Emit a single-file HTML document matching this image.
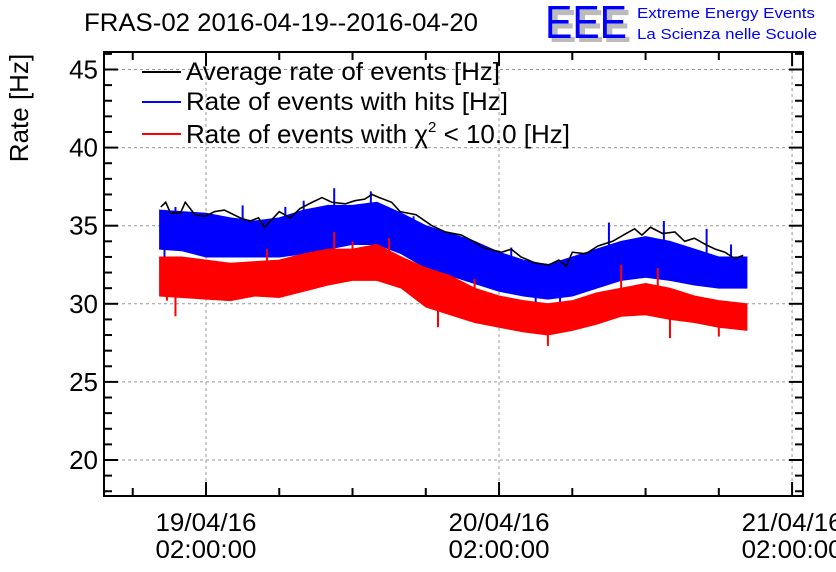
<!DOCTYPE html>
<html><head><meta charset="utf-8"><style>
body{margin:0;background:#fff;}
svg{display:block;font-family:"Liberation Sans",sans-serif;}
</style></head><body>
<svg id="chart" width="836" height="572" viewBox="0 0 836 572">
<text x="84" y="31" font-size="25" textLength="394" lengthAdjust="spacingAndGlyphs">FRAS-02 2016-04-19--2016-04-20</text>
<g>
<text x="549" y="42" font-size="46" fill="#bbb" font-weight="bold" textLength="82" lengthAdjust="spacingAndGlyphs">EEE</text>
<text x="545" y="38" font-size="46" fill="#0000ff" textLength="82" lengthAdjust="spacingAndGlyphs">EEE</text>
<text x="637" y="18" font-size="15" fill="#0000ff" textLength="178" lengthAdjust="spacingAndGlyphs">Extreme Energy Events</text>
<text x="637" y="39" font-size="15" fill="#0000ff" textLength="180" lengthAdjust="spacingAndGlyphs">La Scienza nelle Scuole</text>
</g>
<text transform="translate(28,108) rotate(-90)" text-anchor="middle" font-size="26">Rate [Hz]</text>
<g id="grid"></g><g id="series"></g><g id="axes"></g>
<g font-size="25">
<line x1="142" y1="72" x2="181" y2="72" stroke="#000" stroke-width="2"/><text x="186" y="80" textLength="314" lengthAdjust="spacingAndGlyphs">Average rate of events [Hz]</text>
<line x1="142" y1="102" x2="181" y2="102" stroke="#0000ff" stroke-width="2"/><text x="186" y="110" textLength="322" lengthAdjust="spacingAndGlyphs">Rate of events with hits [Hz]</text>
<line x1="142" y1="134" x2="181" y2="134" stroke="#ff0000" stroke-width="2"/><text x="186" y="143" font-size="26">Rate of events with χ<tspan font-size="15" dy="-11">2</tspan><tspan dy="11"> &lt; 10.0 [Hz]</tspan></text>
</g>
</svg>
<script>
const avgT=[-3.7,-3.3,-2.9,-2.1,-1.7,-0.9,-0.1,0.7,1.5,2.8,3.6,4.3,4.8,6.0,6.9,7.7,8.7,9.5,10.3,11.4,12.2,13.0,13.6,14.2,15.2,15.9,17.2,18.5,19.6,20.9,21.9,22.7,24.2,25.0,25.8,27.0,28.1,28.9,29.5,30.0,31.1,32.1,33.3,34.4,35.1,35.7,36.4,37.4,38.4,39.2,40.0,40.9,41.7,42.5,43.3,44.0];
const avgV=[36.2,36.5,35.8,35.8,36.5,35.7,35.6,35.9,36.0,35.5,35.3,35.5,34.9,35.9,35.5,36.1,36.5,36.8,36.5,36.4,36.6,36.7,37.0,36.8,36.5,35.9,35.7,35.0,34.6,34.4,34.0,33.6,33.3,33.5,33.0,32.6,32.5,32.8,32.4,33.3,33.2,33.7,34.0,34.5,34.8,34.4,34.9,34.5,34.6,34.0,34.2,33.8,33.5,33.3,32.9,33.1];
const bandT=[-3.8,-2,0,2,4,6,8,10,12,14,16,18,20,22,24,26,28,30,32,34,36,38,40,42,44.3];
const blueHi=[36.0,35.9,35.8,35.5,35.3,35.5,36.0,36.3,36.3,36.5,35.8,35.0,34.5,34.0,33.3,32.8,32.5,33.0,33.5,34.0,34.3,34.0,33.5,33.0,33.0];
const blueLo=[33.5,33.4,33.0,33.0,33.0,33.0,33.2,33.5,33.8,33.8,33.2,32.3,31.8,31.3,30.8,30.5,30.3,30.5,31.0,31.5,31.7,31.5,31.2,31.0,31.0];
const redHi=[33.0,33.0,32.8,32.6,32.7,32.8,33.2,33.5,33.5,33.8,33.0,32.3,31.8,31.0,30.5,30.2,30.0,30.2,30.7,31.0,31.3,31.0,30.5,30.2,30.0];
const redLo=[30.5,30.4,30.3,30.2,30.5,30.4,30.8,31.2,31.5,31.5,31.0,29.8,29.3,28.8,28.5,28.2,28.0,28.3,28.7,29.2,29.3,29.0,28.8,28.5,28.3];
const blueSpikeT=[10.5,13.5,8,-2.5,37.5,33,41,-3.4,20,27,29,3,6.5,17,25,43];
const blueSpikeV=[37.4,37.2,36.6,36.2,35.3,35.2,34.8,32.8,31.0,29.8,30.0,36.3,36.2,35.6,33.6,33.8];
const redSpikeT=[10.5,15,12,34,37,-2.5,28,38,42,19,-3.2,5,22,31];
const redSpikeV=[34.6,34.2,34.0,32.5,32.3,29.2,27.3,27.8,27.9,28.5,30.2,33.5,31.6,29.0];
const yTicks=[20,25,30,35,40,45];
const xTickH=[0,24,48];
const xLab1=["19/04/16","20/04/16","21/04/16"];
const xLab2=["02:00:00","02:00:00","02:00:00"];
const L=104,R=803,T=52,B=496;
const X=h=>206+h*12.21;
const Y=v=>69.5+(45-v)*15.62;
const NS="http://www.w3.org/2000/svg";
function mk(p,tag,a){const e=document.createElementNS(NS,tag);for(const k in a)e.setAttribute(k,a[k]);p.appendChild(e);return e;}
const grid=document.getElementById('grid'),ser=document.getElementById('series'),ax=document.getElementById('axes');
yTicks.forEach(v=>{const l=mk(grid,'line',{x1:L,x2:R,y1:Y(v),y2:Y(v),stroke:'#999','stroke-dasharray':'3,3'});

});
xTickH.forEach(h=>{const l=mk(grid,'line',{x1:X(h),x2:X(h),y1:T,y2:B,stroke:'#999','stroke-dasharray':'3,3'});

});
function band(hi,lo,col,name){let pts=bandT.map((t,i)=>X(t)+','+Y(hi[i]));
for(let i=bandT.length-1;i>=0;i--)pts.push(X(bandT[i])+','+Y(lo[i]));
const p=mk(ser,'polygon',{points:pts.join(' '),fill:col,stroke:col,'stroke-width':1});

}
function spikes(ts,vs,hi,lo,col,name){ts.forEach((t,i)=>{let j=0;while(j<bandT.length-1&&bandT[j+1]<t)j++;
const mid=(hi[j]+lo[j])/2;const l=mk(ser,'line',{x1:X(t),x2:X(t),y1:Y(mid),y2:Y(vs[i]),stroke:col,'stroke-width':2});

});}
band(blueHi,blueLo,'#0000ff','hits-rate-band');
spikes(blueSpikeT,blueSpikeV,blueHi,blueLo,'#0000ff','hits-rate-spike');
band(redHi,redLo,'#ff0000','chi2-rate-band');
spikes(redSpikeT,redSpikeV,redHi,redLo,'#ff0000','chi2-rate-spike');
const avg=mk(ser,'polyline',{points:avgT.map((t,i)=>X(t)+','+Y(avgV[i])).join(' '),fill:'none',stroke:'#000','stroke-width':1.6});


const fr=mk(ax,'rect',{x:L,y:T,width:R-L,height:B-T,fill:'none',stroke:'#000','stroke-width':2});


for(let v=18;v<=46;v++){const len=(v%5==0)?14:8;
mk(ax,'line',{x1:L,x2:L+len,y1:Y(v),y2:Y(v),stroke:'#000','stroke-width':2});
mk(ax,'line',{x1:R-len,x2:R,y1:Y(v),y2:Y(v),stroke:'#000','stroke-width':2});}
yTicks.forEach(v=>{const t=mk(ax,'text',{x:98,y:Y(v)+9,'text-anchor':'end','font-size':26});t.textContent=v;

});
for(let h=-6;h<=48;h+=6){const len=(h%24==0)?14:8;
mk(ax,'line',{x1:X(h),x2:X(h),y1:B,y2:B-len,stroke:'#000','stroke-width':2});
mk(ax,'line',{x1:X(h),x2:X(h),y1:T,y2:T+len,stroke:'#000','stroke-width':2});}
xTickH.forEach((h,i)=>{const a=mk(ax,'text',{x:X(h),y:531,'text-anchor':'middle','font-size':25,textLength:101,lengthAdjust:'spacingAndGlyphs'});a.textContent=xLab1[i];


const b=mk(ax,'text',{x:X(h),y:558,'text-anchor':'middle','font-size':25,textLength:101,lengthAdjust:'spacingAndGlyphs'});b.textContent=xLab2[i];

});
</script>
</body></html>
